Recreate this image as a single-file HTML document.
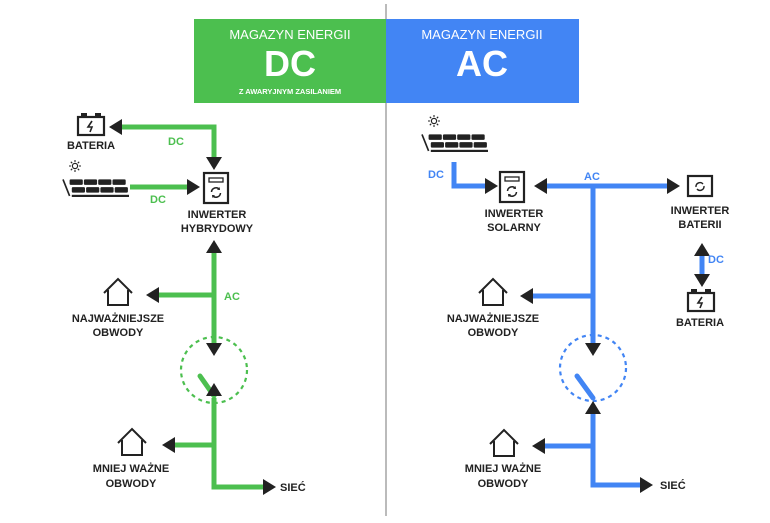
<!DOCTYPE html>
<html><head><meta charset="utf-8"><style>
html,body{margin:0;padding:0;background:#fff;width:770px;height:523px;overflow:hidden}
svg{display:block}
text{font-family:"Liberation Sans",sans-serif;font-weight:bold;fill:#222}
</style></head><body>
<svg width="770" height="523" viewBox="0 0 770 523" xmlns="http://www.w3.org/2000/svg">
<defs>
<g id="inv"><rect x="0" y="0" width="24" height="30" fill="#fff" stroke="#222" stroke-width="2.2"/><rect x="5" y="5" width="14" height="4" fill="none" stroke="#222" stroke-width="1.3"/><path d="M7.5 19 a4.5 4.5 0 0 1 8 -2.5 M16.5 20 a4.5 4.5 0 0 1 -8 2.5" fill="none" stroke="#222" stroke-width="1.5"/><path d="M15.5 14 l0.5 3 -3 -0.3 Z M8.5 25 l-0.5 -3 3 0.3Z" fill="#222"/></g>
<g id="bat"><rect x="0" y="4" width="26" height="18" fill="#fff" stroke="#222" stroke-width="2.2"/><rect x="3" y="0" width="6" height="4" fill="#222"/><rect x="17" y="0" width="6" height="4" fill="#222"/><path d="M14 8 l-4 6 h4 l-2 5" fill="none" stroke="#222" stroke-width="1.6"/></g>
<g id="house"><path d="M0 14 L14 0 L28 14 M4 11 V26 H24 V11" fill="none" stroke="#222" stroke-width="2"/></g>
<g id="panel"><g fill="#222"><rect x="6" y="4" width="12" height="5" rx="1"/><rect x="19" y="4" width="12" height="5" rx="1"/><rect x="32" y="4" width="12" height="5" rx="1"/><rect x="45" y="4" width="12" height="5" rx="1"/><rect x="8" y="11" width="12" height="5" rx="1"/><rect x="21" y="11" width="12" height="5" rx="1"/><rect x="34" y="11" width="12" height="5" rx="1"/><rect x="47" y="11" width="12" height="5" rx="1"/><rect x="8" y="18" width="52" height="2"/></g><path d="M0 4 L6 19" stroke="#222" stroke-width="1.5"/></g>
<g id="sun"><circle cx="0" cy="0" r="2.6" fill="none" stroke="#222" stroke-width="1.2"/><path d="M0 -6v2M0 4v2M-6 0h2M4 0h2M-4.2 -4.2l1.4 1.4M2.8 2.8l1.4 1.4M-4.2 4.2l1.4 -1.4M2.8 -2.8l1.4 -1.4" stroke="#222" stroke-width="1.1"/></g>
</defs>

<line x1="386" y1="4" x2="386" y2="516" stroke="#bbb" stroke-width="2"/>
<rect x="194" y="19" width="192" height="84" fill="#4cbf4f"/>
<rect x="386" y="19" width="193" height="84" fill="#4285f4"/>
<text x="290" y="39" text-anchor="middle" style="font-weight:normal;fill:#fff;font-size:13px">MAGAZYN ENERGII</text>
<text x="290" y="76" text-anchor="middle" style="fill:#fff;font-size:36px">DC</text>
<text x="290" y="94" text-anchor="middle" style="fill:#fff;font-size:7.5px">Z AWARYJNYM ZASILANIEM</text>
<text x="482" y="39" text-anchor="middle" style="font-weight:normal;fill:#fff;font-size:13px">MAGAZYN ENERGII</text>
<text x="482" y="76" text-anchor="middle" style="fill:#fff;font-size:36px">AC</text>

<!-- LEFT (green) -->
<g stroke="#4cbf4f" stroke-width="5" fill="none">
<path d="M120 127 H214 V160"/>
<path d="M130 187 H188"/>
<path d="M214 250 V345"/>
<path d="M214 295 H158"/>
<path d="M214 398 V487 H265"/>
<path d="M214 445 H172"/>
<path d="M200 376 L214 396" stroke-linecap="round"/>
<circle cx="214" cy="370" r="33" stroke-width="2.2" stroke-dasharray="4 4"/>
</g>
<g fill="#222">
<path d="M109 127 L122 119 V135Z"/>
<path d="M214 170 L206 157 H222Z"/>
<path d="M200 187 L187 179 V195Z"/>
<path d="M214 240 L206 253 H222Z"/>
<path d="M214 356 L206 343 H222Z"/>
<path d="M146 295 L159 287 V303Z"/>
<path d="M214 383 L206 396 H222Z"/>
<path d="M162 445 L175 437 V453Z"/>
<path d="M276 487 L263 479 V495Z"/>
</g>
<use href="#bat" x="78" y="113"/>
<text x="91" y="149" text-anchor="middle" font-size="11">BATERIA</text>
<use href="#sun" x="75" y="166"/>
<use href="#panel" transform="translate(63 175) scale(1.1)"/>
<use href="#inv" x="204" y="173"/>
<text x="217" y="218" text-anchor="middle" font-size="11">INWERTER</text>
<text x="217" y="232" text-anchor="middle" font-size="11">HYBRYDOWY</text>
<text x="168" y="145" font-size="11" style="fill:#4cbf4f">DC</text>
<text x="150" y="203" font-size="11" style="fill:#4cbf4f">DC</text>
<text x="224" y="300" font-size="11" style="fill:#4cbf4f">AC</text>
<use href="#house" x="104" y="279"/>
<text x="118" y="322" text-anchor="middle" font-size="11">NAJWAŻNIEJSZE</text>
<text x="118" y="336" text-anchor="middle" font-size="11">OBWODY</text>
<use href="#house" x="118" y="429"/>
<text x="131" y="472" text-anchor="middle" font-size="11">MNIEJ WAŻNE</text>
<text x="131" y="487" text-anchor="middle" font-size="11">OBWODY</text>
<text x="280" y="491" font-size="11">SIEĆ</text>

<!-- RIGHT (blue) -->
<g stroke="#4285f4" stroke-width="5" fill="none">
<path d="M454 162 V186 H488"/>
<path d="M546 186 H670"/>
<path d="M593 186 V345"/>
<path d="M593 296 H530"/>
<path d="M593 410 V485 H642"/>
<path d="M593 446 H545"/>
<path d="M577 376 L593 398" stroke-linecap="round"/>
<circle cx="593" cy="368" r="33" stroke-width="2.2" stroke-dasharray="4 4"/>
<path d="M702 255 V276"/>
</g>
<g fill="#222">
<path d="M498 186 L485 178 V194Z"/>
<path d="M534 186 L547 178 V194Z"/>
<path d="M680 186 L667 178 V194Z"/>
<path d="M593 356 L585 343 H601Z"/>
<path d="M520 296 L533 288 V304Z"/>
<path d="M593 401 L585 414 H601Z"/>
<path d="M532 446 L545 438 V454Z"/>
<path d="M653 485 L640 477 V493Z"/>
<path d="M702 243 L694 256 H710Z"/>
<path d="M702 287 L694 274 H710Z"/>
</g>
<use href="#sun" x="434" y="121"/>
<use href="#panel" transform="translate(422 130) scale(1.1)"/>
<use href="#inv" x="500" y="172"/>
<text x="514" y="217" text-anchor="middle" font-size="11">INWERTER</text>
<text x="514" y="231" text-anchor="middle" font-size="11">SOLARNY</text>
<rect x="688" y="176" width="24" height="20" fill="#fff" stroke="#222" stroke-width="2.2"/>
<path d="M696 187 a4 4 0 0 1 7 -3 M704 186 a4 4 0 0 1 -7 3" fill="none" stroke="#222" stroke-width="1.4"/>
<text x="700" y="214" text-anchor="middle" font-size="11">INWERTER</text>
<text x="700" y="228" text-anchor="middle" font-size="11">BATERII</text>
<use href="#bat" x="688" y="289"/>
<text x="700" y="326" text-anchor="middle" font-size="11">BATERIA</text>
<text x="428" y="178" font-size="11" style="fill:#4285f4">DC</text>
<text x="584" y="180" font-size="11" style="fill:#4285f4">AC</text>
<text x="708" y="263" font-size="11" style="fill:#4285f4">DC</text>
<use href="#house" x="479" y="279"/>
<text x="493" y="322" text-anchor="middle" font-size="11">NAJWAŻNIEJSZE</text>
<text x="493" y="336" text-anchor="middle" font-size="11">OBWODY</text>
<use href="#house" x="490" y="430"/>
<text x="503" y="472" text-anchor="middle" font-size="11">MNIEJ WAŻNE</text>
<text x="503" y="487" text-anchor="middle" font-size="11">OBWODY</text>
<text x="660" y="489" font-size="11">SIEĆ</text>
</svg>
</body></html>
